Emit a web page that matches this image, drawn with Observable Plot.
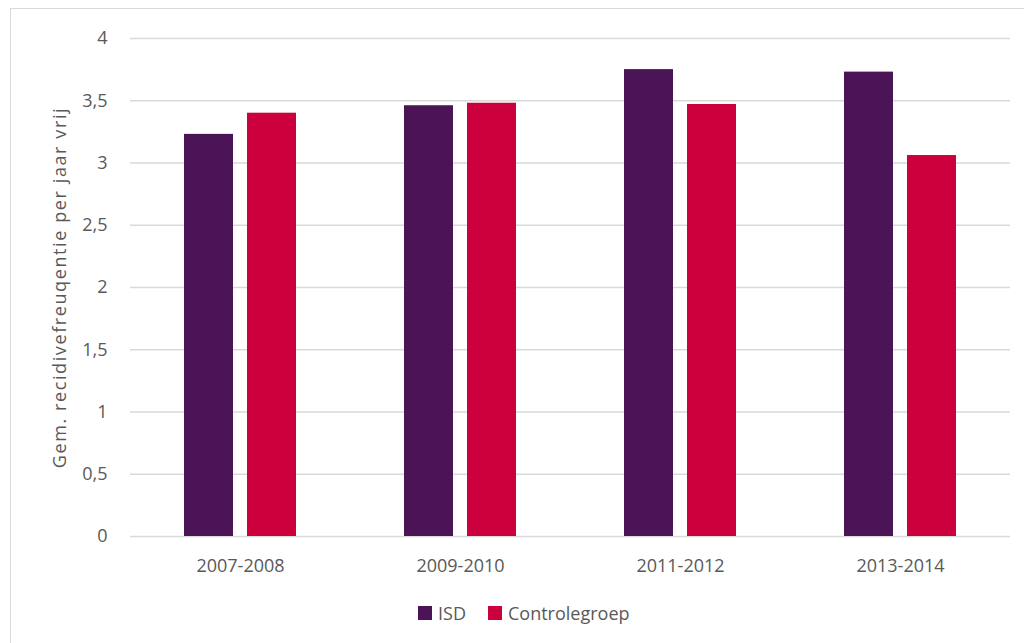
<!DOCTYPE html>
<html><head><meta charset="utf-8">
<script src="https://cdn.jsdelivr.net/npm/d3@7"></script>
<script src="https://cdn.jsdelivr.net/npm/@observablehq/plot@0.6"></script>
<style>
html,body{margin:0;padding:0;background:#fff;overflow:hidden;}
body{width:1024px;height:643px;position:relative;font-family:"Open Sans",sans-serif;}
#frame{position:absolute;left:10px;top:8px;width:1040px;height:680px;border:1.5px solid #d9d9d9;box-sizing:border-box;}
#chart{position:absolute;left:0;top:0;}
#legend{position:absolute;top:601px;left:418px;display:flex;align-items:center;font-size:18px;color:#595959;line-height:24px;}
#legend .item{display:flex;align-items:center;margin-right:22px;}
#legend .sw{width:14px;height:14px;margin-right:6px;}
</style>
</head><body>
<div id="frame"></div>
<div id="chart"></div>
<div id="legend"></div>
<script>
const periods = ["2007-2008", "2009-2010", "2011-2012", "2013-2014"];
const seriesNames = ["ISD", "Controlegroep"];
const isdValues = [3.23, 3.46, 3.75, 3.73];
const controleValues = [3.40, 3.48, 3.47, 3.06];
const seriesColors = ["#4a1457", "#cc003d"];
const yTicks = [0, 0.5, 1, 1.5, 2, 2.5, 3, 3.5, 4];
const yLabel = "Gem. recidivefreuqentie per jaar vrij";

const data = [];
periods.forEach((p, i) => {
  data.push({period: p, series: seriesNames[0], value: isdValues[i]});
  data.push({period: p, series: seriesNames[1], value: controleValues[i]});
});

const fmt = d => String(d).replace(".", ",");

const chart = Plot.plot({
  width: 1024,
  height: 590,
  marginTop: 38,
  marginBottom: 54,
  marginLeft: 130,
  marginRight: 14,
  style: {fontFamily: "'Open Sans', sans-serif", fontSize: "18px", color: "#595959", background: "transparent"},
  fx: {domain: periods, padding: 0, label: null},
  x: {domain: seriesNames, paddingInner: 0.222, paddingOuter: 0.857, axis: null},
  y: {domain: [0, 4]},
  color: {domain: seriesNames, range: seriesColors},
  marks: [
    Plot.gridY(yTicks, {stroke: "#d9d9d9", strokeOpacity: 1, strokeWidth: 1.5}),
    Plot.axisY(yTicks, {tickSize: 0, tickPadding: 23, tickFormat: fmt, fontSize: 18, fill: "#595959",
      label: yLabel, labelAnchor: "center", labelArrow: "none", labelOffset: 77}),
    Plot.barY(data, {fx: "period", x: "series", y: "value", fill: "series"}),
    Plot.axisFx({anchor: "bottom", tickSize: 0, tickPadding: 23, fontSize: 18, fill: "#595959", label: null})
  ]
});
d3.select(chart).selectAll("text").filter(function() { return this.textContent === yLabel; })
  .attr("font-size", 18).style("font-size", "18px").style("letter-spacing", "1.6px").attr("fill", "#595959");
document.getElementById("chart").appendChild(chart);

const legend = document.getElementById("legend");
seriesNames.forEach((s, i) => {
  const item = document.createElement("div");
  item.className = "item";
  const sw = document.createElement("div");
  sw.className = "sw";
  sw.style.background = seriesColors[i];
  const t = document.createElement("span");
  t.textContent = s;
  item.appendChild(sw);
  item.appendChild(t);
  legend.appendChild(item);
});
</script>
</body></html>
